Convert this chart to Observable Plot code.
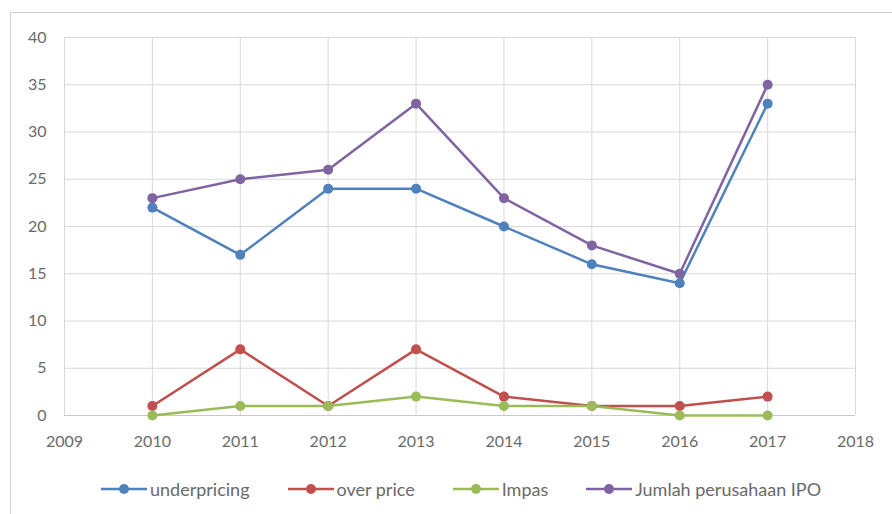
<!DOCTYPE html>
<html><head><meta charset="utf-8">
<script src="https://cdn.jsdelivr.net/npm/d3@7"></script>
<script src="https://cdn.jsdelivr.net/npm/@observablehq/plot@0.6"></script>
<style>
body{margin:0;background:#fff;font-family:Lato,sans-serif;}
#wrap{position:relative;width:892px;height:514px;overflow:hidden;}
#frame{position:absolute;left:10px;top:12px;width:885px;height:510px;border:1px solid #d0d0d0;box-sizing:border-box;}
#chart{position:absolute;left:0;top:0;}
#legend{position:absolute;left:100px;top:478px;display:flex;gap:37px;font-size:18px;color:#6a6a6a;}
#legend span{display:flex;align-items:center;gap:2px;}
</style></head>
<body><div id="wrap"><div id="frame"></div><div id="chart"></div><div id="legend"></div></div>
<script>
const years = [2010,2011,2012,2013,2014,2015,2016,2017];
const seriesNames = ["underpricing","over price","Impas","Jumlah perusahaan IPO"];
const underpricing = [22,17,24,24,20,16,14,33];
const overPrice = [1,7,1,7,2,1,1,2];
const impas = [0,1,1,2,1,1,0,0];
const jumlah = [23,25,26,33,23,18,15,35];
const colors = ["#4F81BD","#C0504D","#9BBB59","#8064A2"];
const xTicks = [2009,2010,2011,2012,2013,2014,2015,2016,2017,2018];
const yTicks = [0,5,10,15,20,25,30,35,40];

const valuesBySeries = [underpricing, overPrice, impas, jumlah];
const data = [];
seriesNames.forEach((s,i)=>years.forEach((y,j)=>data.push({series:s, year:y, value:valuesBySeries[i][j]})));

const chart = Plot.plot({
  width: 892, height: 460,
  marginLeft: 64, marginRight: 37, marginTop: 37, marginBottom: 45,
  style:{fontFamily:"Lato,sans-serif", fontSize:"16px", color:"#6a6a6a", background:"transparent"},
  x:{domain:[2009,2018], label:null},
  y:{domain:[0,40], label:null},
  color:{domain:seriesNames, range:colors},
  marks:[
    Plot.gridX(xTicks,{stroke:"#d9d9d9", strokeOpacity:1}),
    Plot.gridY(yTicks,{stroke:"#d9d9d9", strokeOpacity:1}),
    Plot.axisX({ticks:xTicks, tickFormat:d=>String(d), tickSize:0, tickPadding:20, fill:"#6a6a6a", fontSize:16}),
    Plot.axisY({ticks:yTicks, tickSize:0, tickPadding:18, fill:"#6a6a6a", fontSize:16}),
    Plot.ruleY([0],{stroke:"#c8c8c8"}),
    Plot.line(data,{x:"year", y:"value", z:"series", stroke:"series", strokeWidth:2.5}),
    Plot.dot(data,{x:"year", y:"value", fill:"series", r:5})
  ]
});
document.getElementById("chart").appendChild(chart);

const leg = document.getElementById("legend");
seriesNames.forEach((s,i)=>{
  const sp = document.createElement("span");
  sp.innerHTML = `<svg width="48" height="14"><line x1="1" y1="7" x2="47" y2="7" stroke="${colors[i]}" stroke-width="2.5"/><circle cx="24" cy="7" r="5" fill="${colors[i]}"/></svg>${s}`;
  leg.appendChild(sp);
});
</script></body></html>
